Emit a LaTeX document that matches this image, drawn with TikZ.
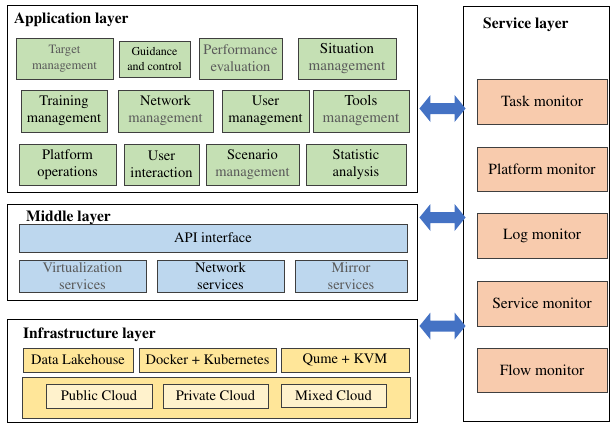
\documentclass[tikz,border=0pt]{standalone}
\usepackage[T1]{fontenc}
\renewcommand\rmdefault{ptm}
\usetikzlibrary{calc}

\definecolor{appgreen}{HTML}{C5E0B4}
\definecolor{midblue}{HTML}{BDD7EE}
\definecolor{infyellow}{HTML}{FFE699}
\definecolor{cloudcream}{HTML}{FFF2CC}
\definecolor{svcorange}{HTML}{F8CBAD}
\definecolor{arrowblue}{HTML}{4472C4}
\definecolor{edgegray}{HTML}{3F3F3F}
\definecolor{softtext}{HTML}{5A5A5A}

% box from corner (x1,y1) to corner (x2,y2), named and styled
\newcommand\layoutbox[7]{%
  \node[#2, minimum width={#5-#3}, minimum height={#6-#4}]
    (#1) at ({(#3+#5)/2},{(#4+#6)/2}) {#7};}

% filled two-headed arrow between two points on one horizontal line
\newcommand\twoheaded[2]{%
  \path let \p1=(#1), \p2=(#2) in
    [fill=arrowblue]
    (\x1,\y1) -- (\x1+11pt,\y1+13.5pt) -- (\x1+11pt,\y1+5.5pt)
    -- (\x2-11pt,\y1+5.5pt) -- (\x2-11pt,\y1+13.5pt) -- (\x2,\y1)
    -- (\x2-11pt,\y1-13.5pt) -- (\x2-11pt,\y1-5.5pt)
    -- (\x1+11pt,\y1-5.5pt) -- (\x1+11pt,\y1-13.5pt) -- cycle;}

\tikzset{
  layer/.style={draw=black, line width=0.9pt, fill=white, inner sep=0pt},
  cell/.style={draw=edgegray, line width=0.7pt, inner sep=0pt, align=center,
    font=\fontsize{14.5}{17}\selectfont},
  appcell/.style={cell, fill=appgreen},
  midcell/.style={cell, fill=midblue},
  infcell/.style={cell, fill=infyellow},
  cloudcell/.style={cell, fill=cloudcream},
  svccell/.style={cell, fill=svcorange, font=\fontsize{15.5}{18}\selectfont},
  title/.style={anchor=west, inner sep=0pt, font=\fontsize{15.5}{18}\selectfont\bfseries},
}

\begin{document}
\begin{tikzpicture}[x=1pt, y=-1pt]
\useasboundingbox (0,0) rectangle (611,423);

% ---- layer frames ----
\layoutbox{app}{layer}{7}{5}{417}{192}{}
\layoutbox{mid}{layer}{7}{204}{417}{300}{}
\layoutbox{infra}{layer}{7}{319}{417}{422}{}
\layoutbox{svc}{layer}{463}{6}{609}{421}{}

\node[title] (apptitle) at (14,20) {Application layer};
\node[title] (midtitle) at (26,218) {Middle layer};
\node[title] (inftitle) at (23,335) {Infrastructure layer};
\node[title] (svctitle) at (483,25) {Service layer};

% ---- application layer ----
\layoutbox{target}{appcell, font=\fontsize{12.7}{16}\selectfont, text=softtext}{16}{38}{113}{79}{Target\\management}
\layoutbox{guide}{appcell, font=\fontsize{12}{15}\selectfont}{119}{41}{190}{77}{Guidance\\and control}
\layoutbox{perf}{appcell, text=softtext}{199}{38}{282}{79}{Performance\\evaluation}
\layoutbox{situ}{appcell, font=\fontsize{15}{17}\selectfont}{298}{38}{396}{79}{Situation\\\textcolor{softtext}{management}}

\layoutbox{train}{appcell}{21}{90}{107}{132}{Training\\management}
\layoutbox{netmgmt}{appcell}{118}{90}{213}{132}{Network\\\textcolor{softtext}{management}}
\layoutbox{usermgmt}{appcell}{222}{90}{309}{132}{User\\management}
\layoutbox{tools}{appcell, font=\fontsize{15}{17}\selectfont}{313}{90}{409}{132}{Tools\\\textcolor{softtext}{management}}

\layoutbox{platops}{appcell}{19}{144}{116}{185}{Platform\\operations}
\layoutbox{uinter}{appcell}{124}{144}{199}{185}{User\\interaction}
\layoutbox{scen}{appcell}{206}{144}{299}{185}{Scenario\\\textcolor{softtext}{management}}
\layoutbox{stat}{appcell}{306}{144}{406}{185}{Statistic\\analysis}

% ---- middle layer ----
\layoutbox{api}{midcell}{19}{224}{407}{252}{API interface}
\layoutbox{virt}{midcell, text=softtext}{19}{260}{146}{292}{Virtualization\\services}
\layoutbox{netsvc}{midcell}{157}{260}{284}{292}{Network\\services}
\layoutbox{mirror}{midcell, text=softtext}{295}{260}{407}{292}{Mirror\\services}

% ---- infrastructure layer ----
\layoutbox{lake}{infcell}{23}{348}{133}{372}{Data Lakehouse}
\layoutbox{docker}{infcell}{139}{348}{276}{372}{Docker + Kubernetes}
\layoutbox{qume}{infcell}{281}{348}{409}{372}{Qume + KVM}
\layoutbox{cloudbar}{infcell}{22}{377}{410}{418}{}
\layoutbox{pubcloud}{cloudcell}{46}{384}{152}{408}{Public Cloud}
\layoutbox{privcloud}{cloudcell}{163}{384}{268}{408}{Private Cloud}
\layoutbox{mixcloud}{cloudcell}{281}{384}{386}{407}{Mixed Cloud}

% ---- service layer ----
\layoutbox{taskmon}{svccell}{477}{79}{607}{124}{Task monitor}
\layoutbox{platmon}{svccell}{477}{147}{607}{191}{Platform monitor}
\layoutbox{logmon}{svccell}{477}{213}{607}{258}{Log monitor}
\layoutbox{servmon}{svccell}{477}{281}{607}{326}{Service monitor}
\layoutbox{flowmon}{svccell}{477}{348}{607}{392}{Flow monitor}

% ---- links between layers and the service layer ----
\coordinate (a1l) at ($(app.east |- 0,108.5)+(2,0)$);
\coordinate (a1r) at ($(svc.west |- 0,108.5)+(3,0)$);
\coordinate (a2l) at ($(mid.east |- 0,217.5)+(2,0)$);
\coordinate (a2r) at ($(svc.west |- 0,217.5)+(3,0)$);
\coordinate (a3l) at ($(infra.east |- 0,326)+(2,0)$);
\coordinate (a3r) at ($(svc.west |- 0,326)+(3,0)$);
\twoheaded{a1l}{a1r}
\twoheaded{a2l}{a2r}
\twoheaded{a3l}{a3r}
\end{tikzpicture}
\end{document}
